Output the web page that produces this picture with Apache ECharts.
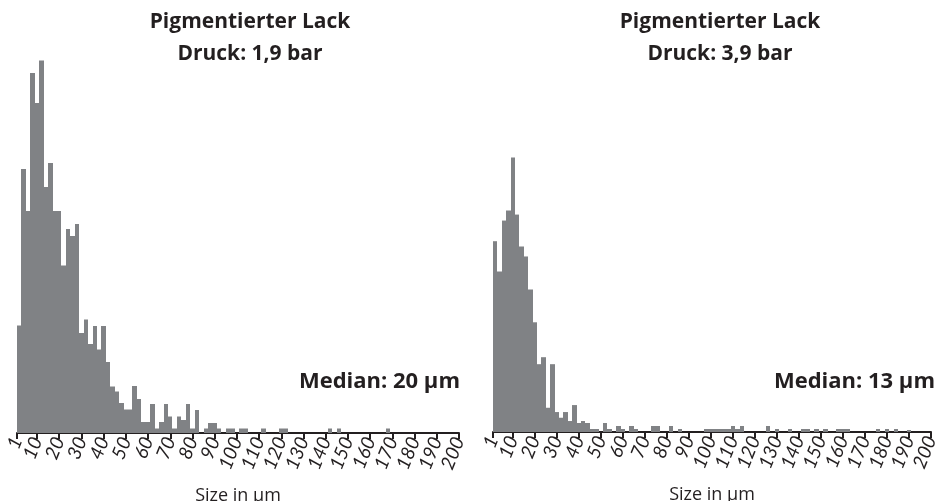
<!DOCTYPE html>
<html>
<head>
<meta charset="utf-8">
<script src="https://cdn.jsdelivr.net/npm/echarts@6/dist/echarts.min.js"></script>
<style>html,body{margin:0;padding:0;background:#fff}#c{width:941px;height:501px}</style>
</head>
<body>
<div id="c"></div>
<script>
// Histogram bins: width 2 µm starting at 1 µm
const binStart = 1;
const binWidth = 2;
const tickValues = [1,10,20,30,40,50,60,70,80,90,100,110,120,130,140,150,160,170,180,190,200];

const titleLeft = 'Pigmentierter Lack\nDruck: 1,9 bar';
const titleRight = 'Pigmentierter Lack\nDruck: 3,9 bar';
const medianLeft = 'Median: 20 µm';
const medianRight = 'Median: 13 µm';
const axisName = 'Size in µm';

// relative frequencies (arbitrary units) per bin
const countsLeft = [107.5,264,222,360,330,372.5,246,270,222,222,167.5,204,197,209,100,113.5,89,107,83.5,107,
  71,46.5,41.5,30,23.5,23.5,47,34,11,11,29,4.5,11,29,16.5,4.5,16.5,13,29,4.5,
  23,0,4.5,10,10,4.5,0,4.5,4.5,0,4.5,4.5,0,0,0,4.5,0,0,0,4.5,
  4.5,0,0,0,0,0,0,0,0,0,4.5,0,4.5,0,0,0,0,0,0,0,
  0,0,0,4.5];
const countsRight = [191.3,161,212,222,275.3,218,186,176,143,110,68,75,24.3,68,20,14.3,20,11,27,9,
  11,9,3,3,0,9,3,0,6,3,0,6,3,0,0,0,6,6,0,0,
  6,0,3,0,0,0,0,0,3,3,3,3,3,3,6,3,6,0,0,0,
  0,0,6,0,3,0,0,3,0,0,3,3,0,3,0,3,0,0,3,3,
  3,0,0,0,0,0,0,3,0,3,0,3,0,0,2];

function toBins(arr){
  return arr.map((v,i)=>[binStart + i*binWidth, binStart + (i+1)*binWidth, v]);
}

const chart = echarts.init(document.getElementById('c'));
const textColor = '#231f20';
const barColor = '#808285';

const labelStyle = {rotate:68, margin:5, fontFamily:'Lato', fontSize:19, lineHeight:9, fontStyle:'italic', color:textColor, hideOverlap:false};

function xAxisCfg(idx){
  return {
    type:'value', gridIndex:idx, min:1, max:200,
    name: axisName, nameLocation:'middle', nameGap:54, nameMoveOverlap:false,
    nameTextStyle:{fontFamily:'Open Sans', fontSize:18, color:textColor},
    axisLine:{show:true, lineStyle:{color:textColor, width:2}},
    axisTick:{show:true, length:6, lineStyle:{color:textColor, width:2}, customValues: tickValues},
    axisLabel:Object.assign({show:true, customValues: tickValues.slice(1), showMaxLabel:true}, labelStyle),
    splitLine:{show:false}
  };
}
// second axis per grid carrying only the first tick label ("1")
function firstLabelAxis(idx){
  return {
    type:'value', gridIndex:idx, min:1, max:200, position:'bottom',
    axisLine:{show:false}, axisTick:{show:false}, splitLine:{show:false},
    axisLabel:Object.assign({show:true, customValues: tickValues.slice(0,1), showMinLabel:true}, labelStyle)
  };
}
function yAxisCfg(idx){
  return {type:'value', gridIndex:idx, min:0, max:380, show:false};
}
function renderBar(params, api){
  const x0 = api.value(0), x1 = api.value(1), v = api.value(2);
  if (!v) return;
  const p0 = api.coord([x0, v]);
  const p1 = api.coord([x1, 0]);
  const xa = Math.round(p0[0]), xb = Math.round(p1[0]);
  return {type:'rect', shape:{x:xa, y:p0[1], width:xb-xa, height:p1[1]-p0[1]},
    style:{fill:barColor}};
}

const titleStyle = {fontFamily:'Open Sans', fontWeight:'bold', fontSize:21, lineHeight:32, color:textColor};
chart.setOption({
  animation:false,
  title:[
    {text:titleLeft, left:250, top:6, padding:0, textAlign:'center', textStyle:titleStyle},
    {text:titleRight, left:720, top:6, padding:0, textAlign:'center', textStyle:titleStyle}
  ],
  graphic:[
    {type:'text', right:481, top:371, style:{text:medianLeft, font:'bold 22px "Open Sans"', fill:textColor}},
    {type:'text', right:6, top:371, style:{text:medianRight, font:'bold 22px "Open Sans"', fill:textColor}}
  ],
  grid:[
    {left:17, right:482, top:53, bottom:68, containLabel:false, outerBoundsMode:'none'},
    {left:493, right:10, top:53, bottom:69, containLabel:false, outerBoundsMode:'none'}
  ],
  xAxis:[xAxisCfg(0), xAxisCfg(1), firstLabelAxis(0), firstLabelAxis(1)],
  yAxis:[yAxisCfg(0), yAxisCfg(1)],
  series:[
    {type:'custom', xAxisIndex:0, yAxisIndex:0, renderItem:renderBar, data:toBins(countsLeft), encode:{x:[0,1], y:2}, z:1},
    {type:'custom', xAxisIndex:1, yAxisIndex:1, renderItem:renderBar, data:toBins(countsRight), encode:{x:[0,1], y:2}, z:1}
  ]
});
</script>
</body>
</html>
